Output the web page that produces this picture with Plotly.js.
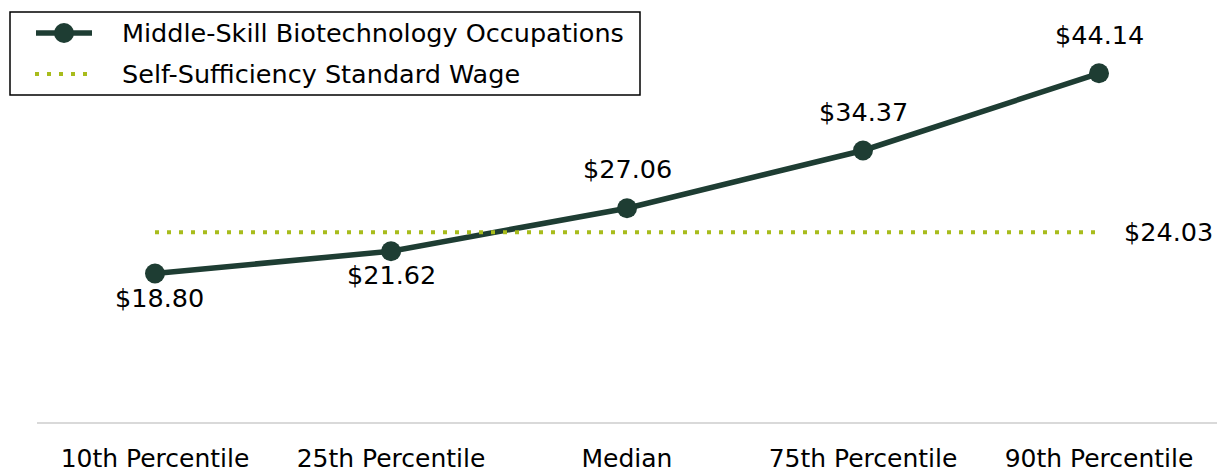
<!DOCTYPE html>
<html>
<head>
<meta charset="utf-8">
<script src="https://cdn.plot.ly/plotly-3.0.1.min.js"></script>
<style>html,body{margin:0;padding:0;background:#fff;}#chart{width:1221px;height:473px;}</style>
</head>
<body>
<div id="chart"></div>
<script>
const categories = ["10th Percentile", "25th Percentile", "Median", "75th Percentile", "90th Percentile"];
const wages = [18.80, 21.62, 27.06, 34.37, 44.14];
const selfSufficiency = [24.03, 24.03, 24.03, 24.03, 24.03];
const seriesNames = ["Middle-Skill Biotechnology Occupations", "Self-Sufficiency Standard Wage"];
const wageLabels = wages.map(v => "$" + v.toFixed(2));
const selfLabel = "$" + selfSufficiency[0].toFixed(2);

const font = "'DejaVu Sans', sans-serif";
const darkGreen = "#1e3d33";
const lime = "#a8bc1c";
const labelSize = 25.5;

// plot geometry (pixels) used to place the hand-drawn legend
const W = 1221, H = 473, mL = 37, mR = 4, mT = 27, mB = 51;
const pw = W - mL - mR, ph = H - mT - mB;
const px = x => (x - mL) / pw;
const py = y => (H - mB - y) / ph;

const traces = [
  {
    x: categories, y: wages, type: "scatter", mode: "lines+markers",
    name: seriesNames[0], showlegend: false,
    line: {color: darkGreen, width: 5.5},
    marker: {color: darkGreen, size: 20}
  },
  {
    x: categories, y: selfSufficiency, type: "scatter", mode: "lines",
    name: seriesNames[1], showlegend: false,
    line: {color: lime, width: 4, dash: "4px,8px"}
  }
];

const labelShift = [-25, -24, 39, 38, 38];
const annotations = wages.map((v, i) => ({
  x: categories[i], y: v, xref: "x", yref: "y", text: wageLabels[i],
  showarrow: false, yshift: labelShift[i], xshift: i === 0 ? 4 : 0,
  font: {family: font, size: labelSize, color: "#000"}
}));
annotations.push({
  x: categories[4], y: selfSufficiency[4], xref: "x", yref: "y",
  text: selfLabel, showarrow: false, xanchor: "left", xshift: 23,
  font: {family: font, size: labelSize, color: "#000"}
});
// legend text
annotations.push({x: px(120), y: py(33), xref: "paper", yref: "paper", text: seriesNames[0],
  showarrow: false, xanchor: "left", yanchor: "middle", font: {family: font, size: labelSize, color: "#000"}});
annotations.push({x: px(120), y: py(74), xref: "paper", yref: "paper", text: seriesNames[1],
  showarrow: false, xanchor: "left", yanchor: "middle", font: {family: font, size: labelSize, color: "#000"}});

const shapes = [
  {type: "rect", xref: "paper", yref: "paper", x0: px(10), x1: px(640), y0: py(12), y1: py(95),
   line: {color: "#000", width: 1.5}, fillcolor: "rgba(0,0,0,0)"},
  {type: "line", xref: "paper", yref: "paper", x0: px(36), x1: px(92), y0: py(33), y1: py(33),
   line: {color: darkGreen, width: 5.5}},
  {type: "circle", xref: "paper", yref: "paper", x0: px(54), x1: px(74), y0: py(23), y1: py(43),
   line: {color: darkGreen, width: 0}, fillcolor: darkGreen},
  {type: "line", xref: "paper", yref: "paper", x0: px(35), x1: px(92), y0: py(74), y1: py(74),
   line: {color: lime, width: 4, dash: "4px,8px"}}
];

const layout = {
  width: W, height: H,
  margin: {l: mL, r: mR, t: mT, b: mB},
  paper_bgcolor: "#fff", plot_bgcolor: "#fff",
  font: {family: font, size: 25, color: "#000"},
  showlegend: false,
  xaxis: {
    type: "category", range: [-0.5, 4.5],
    showline: true, linecolor: "#d9d9d9", linewidth: 2,
    showgrid: false, zeroline: false, ticks: "",
    tickfont: {family: font, size: 25, color: "#000"},
    ticklabelstandoff: 13
  },
  yaxis: {
    range: [0, 50], showgrid: false, zeroline: false,
    showticklabels: false, showline: false, ticks: ""
  },
  annotations: annotations,
  shapes: shapes
};

Plotly.newPlot("chart", traces, layout, {displayModeBar: false, staticPlot: true});
</script>
</body>
</html>
